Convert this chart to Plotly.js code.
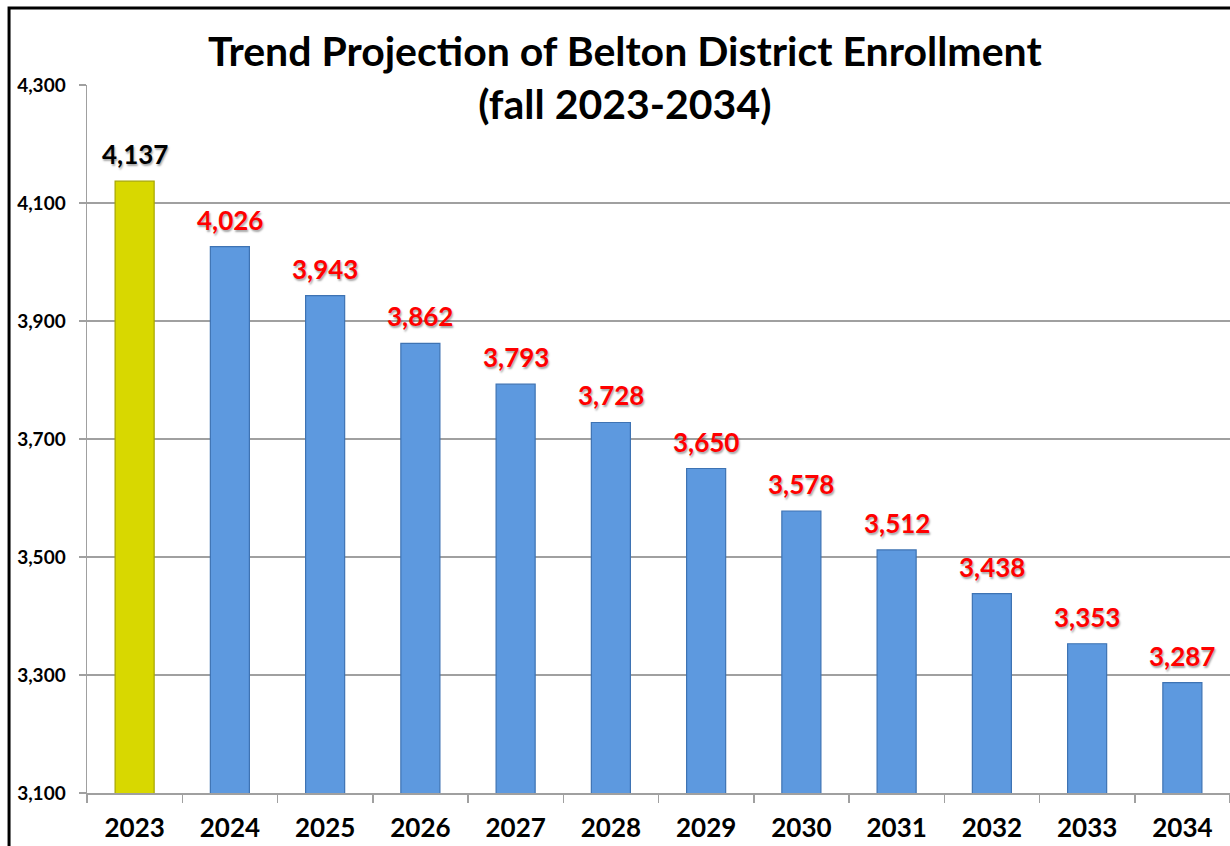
<!DOCTYPE html>
<html>
<head>
<meta charset="utf-8">
<script src="https://cdn.plot.ly/plotly-3.0.1.min.js"></script>
<style>
  html, body { margin: 0; padding: 0; background: #ffffff; }
  #chart { width: 1230px; height: 846px; }
</style>
</head>
<body>
<div id="chart"></div>
<script>
// Fall enrollment: 2023 actual, 2024-2034 projected
const years = ['2023', '2024', '2025', '2026', '2027', '2028', '2029', '2030', '2031', '2032', '2033', '2034'];
const enrollment = [4137, 4026, 3943, 3862, 3793, 3728, 3650, 3578, 3512, 3438, 3353, 3287];
const yTicks = [3100, 3300, 3500, 3700, 3900, 4100, 4300];

const ACTUAL_FILL = '#D8D800';
const ACTUAL_EDGE = '#A6A600';
const PROJ_FILL = '#5D99DF';
const PROJ_EDGE = '#3E73B3';

const fills = years.map((_, i) => i === 0 ? ACTUAL_FILL : PROJ_FILL);
const edges = years.map((_, i) => i === 0 ? ACTUAL_EDGE : PROJ_EDGE);
const labelColors = years.map((_, i) => i === 0 ? '#000000' : '#FF0000');

const FONT = 'Lato, "Open Sans", "Liberation Sans", sans-serif';

const bars = {
  type: 'bar',
  x: years,
  y: enrollment,
  width: 0.41,
  marker: { color: fills, line: { color: edges, width: 1.2 } },
  hoverinfo: 'x+y'
};

// Value labels above each bar; x given as the category's serial index
const valueLabels = years.map((yr, i) => ({
  x: i,
  y: enrollment[i],
  xref: 'x',
  yref: 'y',
  text: '<b>' + enrollment[i].toLocaleString('en-US') + '</b>',
  showarrow: false,
  yanchor: 'bottom',
  yshift: 9,
  font: {
    family: FONT,
    size: 26,
    color: labelColors[i],
    shadow: '1px 2px 2px rgba(0,0,0,0.35)'
  }
}));

const layout = {
  width: 1230,
  height: 846,
  margin: { l: 87, r: 0, t: 85, b: 53 },
  paper_bgcolor: '#ffffff',
  plot_bgcolor: '#ffffff',
  showlegend: false,
  title: {
    text: '<b>Trend Projection of Belton District Enrollment<br>(fall 2023-2034)</b>',
    font: { family: FONT, size: 41, color: '#000000' },
    x: 0.508,
    xanchor: 'center',
    y: 0.922,
    yanchor: 'top',
    yref: 'container'
  },
  xaxis: {
    type: 'category',
    range: [-0.5, 11.5],
    tickson: 'boundaries',
    ticks: 'outside',
    ticklen: 8,
    tickwidth: 1.5,
    tickcolor: '#A0A0A0',
    showline: true,
    linecolor: '#A0A0A0',
    linewidth: 1.5,
    showgrid: false,
    ticklabelstandoff: 11,
    tickfont: { family: FONT, size: 26, weight: 700, color: '#000000' }
  },
  yaxis: {
    range: [3100, 4300],
    tickvals: yTicks,
    tickformat: ',d',
    ticks: 'outside',
    ticklen: 7,
    tickwidth: 1.5,
    tickcolor: '#A0A0A0',
    showline: true,
    linecolor: '#A0A0A0',
    linewidth: 1.5,
    showgrid: true,
    gridcolor: '#A0A0A0',
    gridwidth: 1.5,
    zeroline: false,
    ticklabelstandoff: 9,
    tickfont: { family: FONT, size: 19, weight: 700, color: '#000000' }
  },
  annotations: valueLabels,
  shapes: [{
    type: 'rect',
    xref: 'paper',
    yref: 'paper',
    x0: -0.0682,
    x1: 1.05,
    y0: -0.2,
    y1: 1.1088,
    line: { color: '#000000', width: 3 },
    fillcolor: 'rgba(0,0,0,0)',
    layer: 'above'
  }]
};

Plotly.newPlot('chart', [bars], layout, { displayModeBar: false, staticPlot: true });
</script>
</body>
</html>
